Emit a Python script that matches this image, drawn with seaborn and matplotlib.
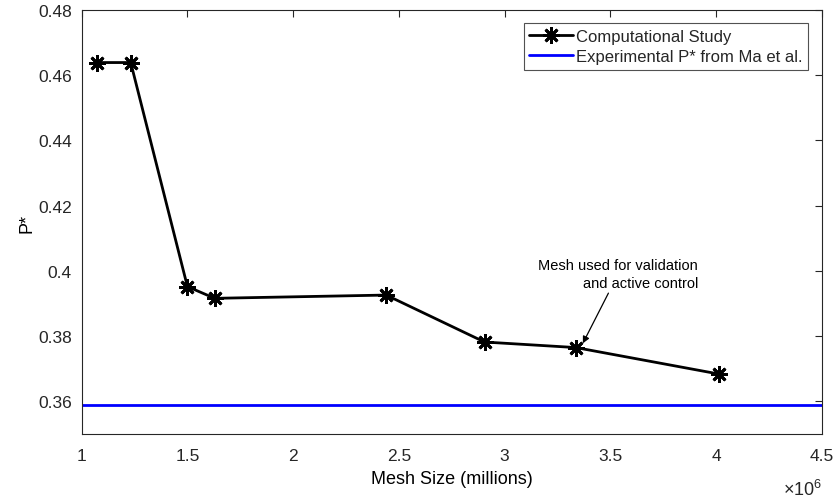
import numpy as np
import pandas as pd
import matplotlib
matplotlib.use("Agg")
import matplotlib.pyplot as plt
import seaborn as sns

# mesh sizes (cells) and P* values
mesh_size = [1.071e6, 1.232e6, 1.500e6, 1.629e6, 2.440e6, 2.905e6, 3.337e6, 4.012e6]
p_star = [0.4639, 0.4639, 0.3952, 0.3916, 0.3926, 0.3782, 0.3765, 0.3684]
p_exp = 0.359

xlim = (1e6, 4.5e6)
ylim = (0.35, 0.48)
xticks = [1e6, 1.5e6, 2e6, 2.5e6, 3e6, 3.5e6, 4e6, 4.5e6]
xticklabels = ['1', '1.5', '2', '2.5', '3', '3.5', '4', '4.5']
yticks = [0.36, 0.38, 0.40, 0.42, 0.44, 0.46, 0.48]
yticklabels = ['0.36', '0.38', '0.4', '0.42', '0.44', '0.46', '0.48']

df = pd.DataFrame({"mesh": mesh_size, "p": p_star})

sns.set_style("white")
plt.rcParams['font.family'] = ['Liberation Sans', 'DejaVu Sans']
plt.rcParams['mathtext.fontset'] = 'custom'
plt.rcParams['mathtext.rm'] = 'Liberation Sans'

fig = plt.figure(figsize=(8.36, 5.02), dpi=100)
ax = fig.add_axes([0.0977, 0.1335, 0.8853, 0.8445])

axis_grey = '#262626'

sns.lineplot(data=df, x="mesh", y="p", ax=ax, color='black', linewidth=2,
             marker=(8, 2, 0), markersize=12, markeredgewidth=2.0,
             markeredgecolor='black', label='Computational Study')
ax.axhline(p_exp, color='#0000ff', linewidth=2, label='Experimental P* from Ma et al.')

ax.annotate('Mesh used for validation\nand active control',
            xy=(3.370e6, 0.3778), xytext=(3.915e6, 0.3942),
            ha='right', va='bottom', fontsize=10.5, color='black', linespacing=1.35,
            arrowprops=dict(arrowstyle='-|>', color='black', lw=0.9,
                            shrinkA=0, shrinkB=0, mutation_scale=10))

ax.set_xlim(*xlim)
ax.set_ylim(*ylim)
ax.set_xticks(xticks)
ax.set_xticklabels(xticklabels)
ax.set_yticks(yticks)
ax.set_yticklabels(yticklabels)

ax.set_xlabel('Mesh Size (millions)', fontsize=13, color='black', labelpad=5)
ax.set_ylabel('P*', fontsize=13, color='black', labelpad=2)
ax.text(1.0, -0.105, r'$\times10^{6}$', transform=ax.transAxes, ha='right', va='top',
        fontsize=13, color=axis_grey)

for side in ['left', 'right', 'top', 'bottom']:
    ax.spines[side].set_visible(True)
    ax.spines[side].set_color(axis_grey)
    ax.spines[side].set_linewidth(0.8)
ax.tick_params(axis='both', direction='in', length=5, width=0.8, colors=axis_grey,
               labelsize=12.5, top=True, right=True, labelcolor=axis_grey)
ax.tick_params(axis='x', pad=10)
ax.tick_params(axis='y', pad=7)

leg = ax.legend(loc='upper right', fontsize=12, frameon=True, fancybox=False,
                borderaxespad=0.8, handlelength=2.6, handletextpad=0.2,
                borderpad=0.35, labelspacing=0.3, bbox_to_anchor=(1.0, 1.0))
leg.get_frame().set_edgecolor(axis_grey)
leg.get_frame().set_linewidth(0.8)

fig.savefig('out.png', dpi=100)
